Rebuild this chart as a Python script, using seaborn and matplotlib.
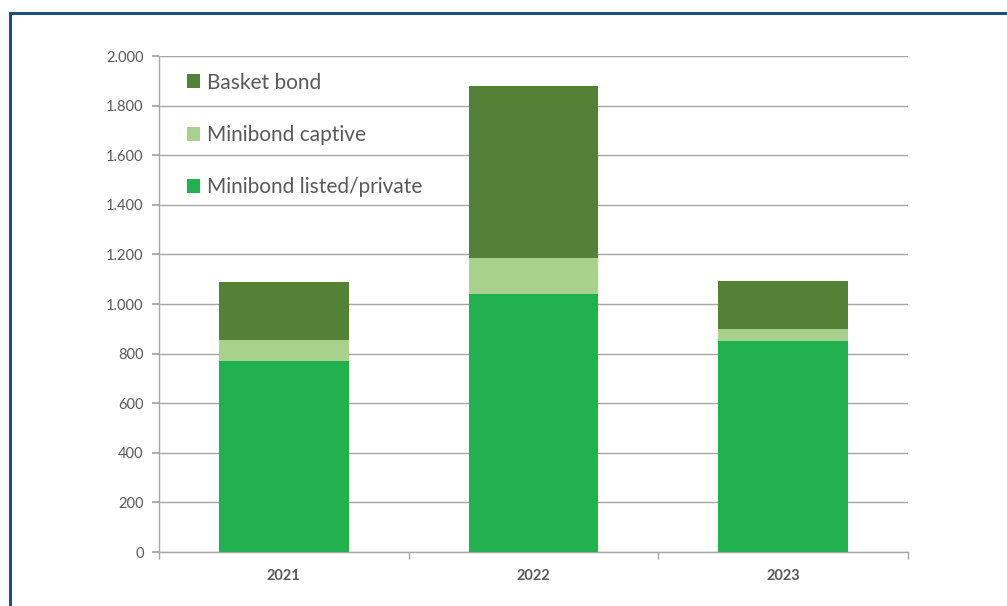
import matplotlib
matplotlib.use("Agg")
import matplotlib.pyplot as plt
import seaborn as sns
import numpy as np
from matplotlib.patches import Patch, Rectangle
from matplotlib.ticker import FuncFormatter, FixedLocator

years = ["2021", "2022", "2023"]
listed = [770, 1042, 852]
captive = [85, 142, 47]
basket = [234, 695, 195]
series_names = ["Minibond listed/private", "Minibond captive", "Basket bond"]
colors = ["#21B14F", "#A9D18E", "#538135"]

sns.set_theme(style="white")
plt.rcParams["font.family"] = ["Lato", "DejaVu Sans"]

fig = plt.figure(figsize=(10.07, 6.06), dpi=100)
ax = fig.add_axes([159 / 1007, 54 / 606, (908 - 159) / 1007, (552 - 56) / 606])

l = np.array(listed)
c = np.array(captive)
b = np.array(basket)
cum = [l, l + c, l + c + b]
for vals, col in zip(cum[::-1], colors[::-1]):
    sns.barplot(x=years, y=vals, color=col, saturation=1, width=0.52, ax=ax,
                edgecolor="none", zorder=3)

ax.set_ylim(0, 2000)
ax.set_xlim(-0.5, 2.5)
ax.set_yticks(np.arange(0, 2001, 200))
ax.yaxis.set_major_formatter(FuncFormatter(lambda v, p: f"{int(v):,}".replace(",", ".")))
ax.grid(axis="y", color="#a6a6a6", linewidth=1.0, zorder=0)
ax.set_axisbelow(True)
for s in ["top", "right"]:
    ax.spines[s].set_visible(False)
for s in ["left", "bottom"]:
    ax.spines[s].set_color("#a6a6a6")
    ax.spines[s].set_linewidth(1.0)

ax.tick_params(axis="y", which="major", length=5, color="#a6a6a6", direction="out",
               labelsize=10.5, labelcolor="#595959", left=True, pad=6)
ax.tick_params(axis="x", which="major", length=0, labelsize=10.5, labelcolor="#595959", pad=12)
ax.xaxis.set_minor_locator(FixedLocator([-0.5, 0.5, 1.5, 2.5]))
ax.tick_params(axis="x", which="minor", length=5, color="#a6a6a6", direction="out", bottom=True)
for t in ax.get_xticklabels():
    t.set_fontweight("bold")
ax.set_xlabel("")
ax.set_ylabel("")

handles = [Patch(facecolor=colors[i], edgecolor="none", label=series_names[i]) for i in [2, 1, 0]]
leg = ax.legend(handles=handles, loc="upper left", bbox_to_anchor=(0.012, 1.004),
                frameon=False, fontsize=15, handlelength=0.65, handleheight=0.65,
                handletextpad=0.3, labelspacing=1.55)
for t in leg.get_texts():
    t.set_color("#595959")

border = Rectangle((10 / 1007, -0.1), 1.2, (606 - 13) / 606 + 0.1, transform=fig.transFigure,
                   fill=False, edgecolor="#1F4E79", linewidth=2.2, clip_on=False)
fig.patches.append(border)

fig.savefig("out.png", dpi=100)
